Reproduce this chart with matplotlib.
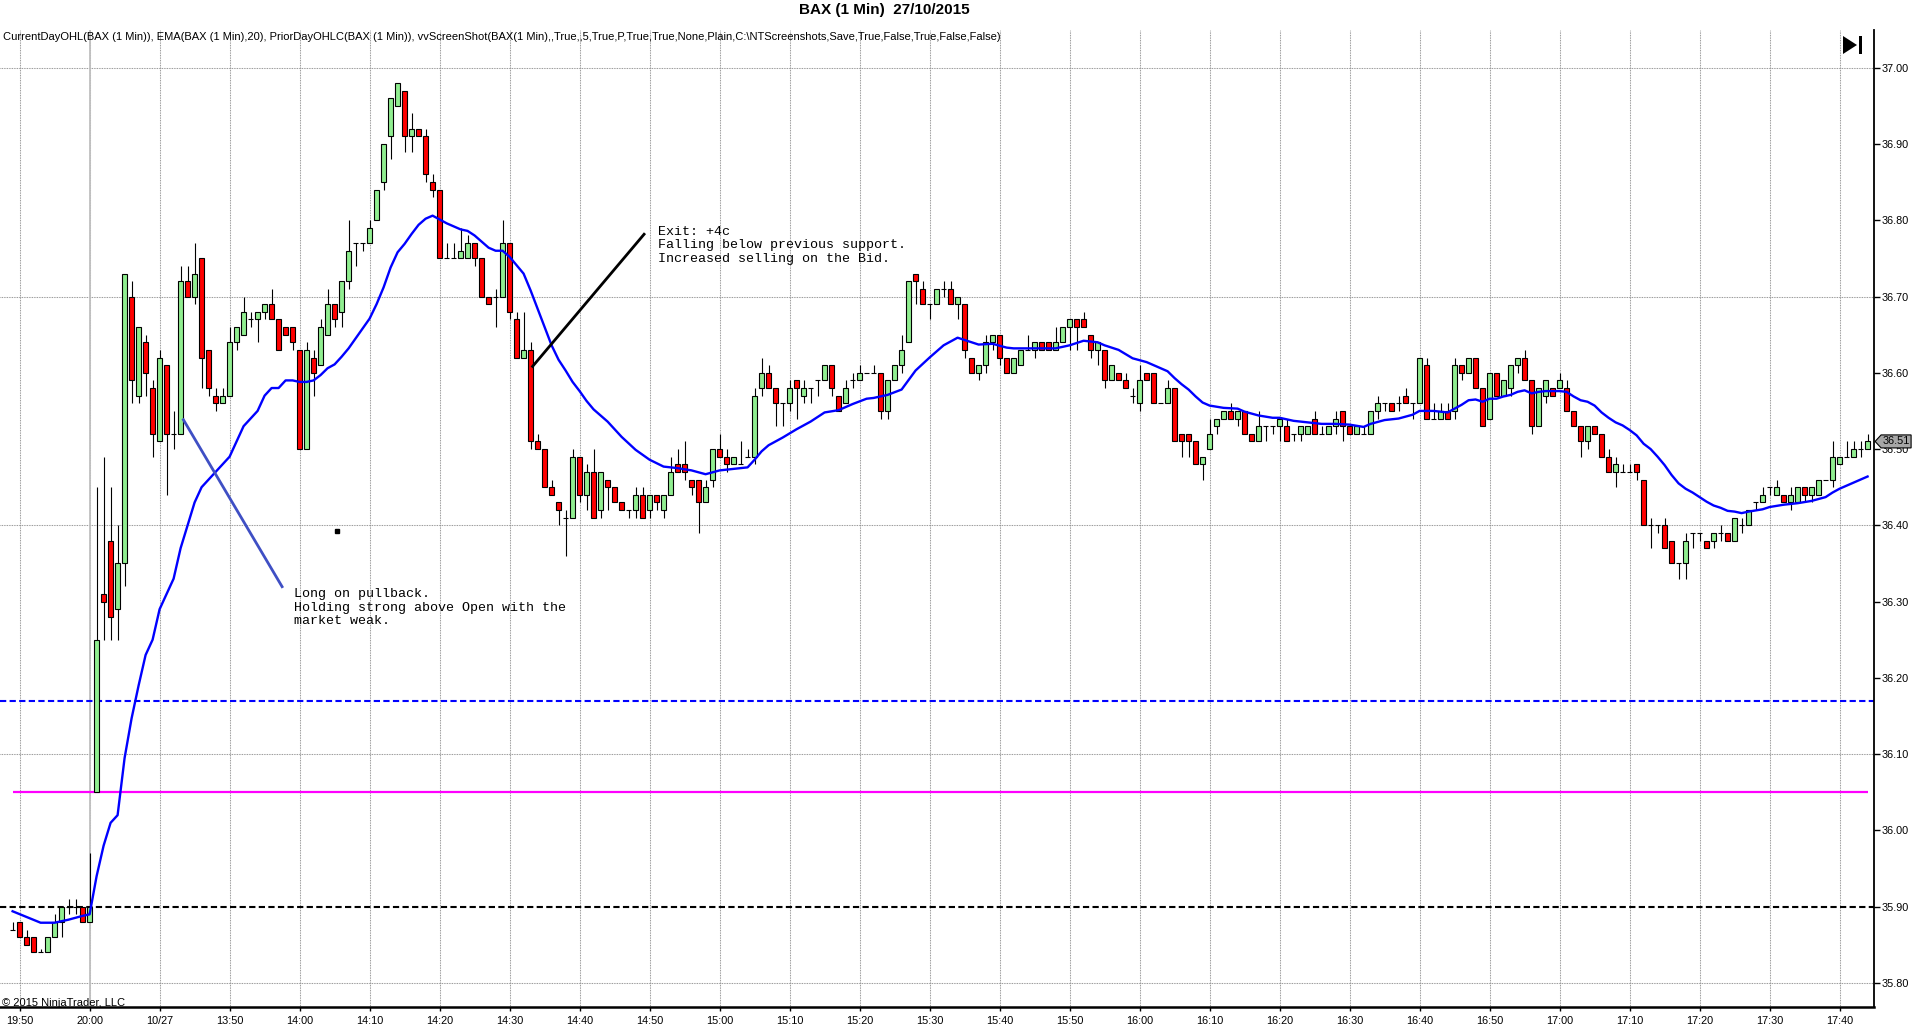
import matplotlib
matplotlib.use('Agg')
import matplotlib.pyplot as plt
import numpy as np
from matplotlib.patches import Polygon, Rectangle

plt.rcParams['font.family'] = ['Liberation Sans', 'DejaVu Sans']

# ---------------- data ----------------
tick_labels = ['19:50', '20:00', '10/27', '13:50', '14:00', '14:10', '14:20', '14:30', '14:40',
               '14:50', '15:00', '15:10', '15:20', '15:30', '15:40', '15:50', '16:00', '16:10',
               '16:20', '16:30', '16:40', '16:50', '17:00', '17:10', '17:20', '17:30', '17:40']

opens = [35.87, 35.88, 35.86, 35.86, 35.84, 35.84, 35.86, 35.88, 35.90, 35.90, 35.90, 35.88,
         36.05, 36.31, 36.38, 36.29, 36.35, 36.70, 36.57, 36.64, 36.58, 36.51,
         36.61, 36.52, 36.52, 36.72, 36.70, 36.75, 36.63, 36.57, 36.56, 36.57,
         36.64, 36.65, 36.67, 36.67, 36.68, 36.69, 36.67, 36.66, 36.66, 36.63,
         36.50, 36.62, 36.61, 36.65, 36.69, 36.68, 36.72, 36.77, 36.77, 36.77,
         36.80, 36.85, 36.91, 36.95, 36.97, 36.91, 36.92, 36.91, 36.85, 36.84,
         36.75, 36.75, 36.75, 36.75, 36.77, 36.75, 36.70, 36.70, 36.70, 36.77,
         36.67, 36.62, 36.63, 36.51, 36.50, 36.45, 36.43, 36.41, 36.41, 36.49,
         36.44, 36.47, 36.42, 36.46, 36.45, 36.43, 36.42, 36.42, 36.44, 36.42,
         36.44, 36.42, 36.44, 36.48, 36.48, 36.46, 36.46, 36.43, 36.46, 36.50,
         36.49, 36.48, 36.48, 36.49, 36.49, 36.58, 36.60, 36.58, 36.56, 36.56,
         36.59, 36.57, 36.58, 36.59, 36.59, 36.61, 36.57, 36.56, 36.59, 36.59,
         36.60, 36.60, 36.60, 36.55, 36.59, 36.61, 36.64, 36.73, 36.71, 36.69,
         36.69, 36.71, 36.71, 36.69, 36.69, 36.62, 36.60, 36.61, 36.64, 36.65,
         36.62, 36.60, 36.61, 36.63, 36.63, 36.64, 36.64, 36.63, 36.64, 36.66,
         36.67, 36.67, 36.65, 36.63, 36.63, 36.59, 36.60, 36.59, 36.57, 36.56,
         36.60, 36.60, 36.56, 36.56, 36.58, 36.52, 36.52, 36.51, 36.48, 36.50,
         36.53, 36.54, 36.55, 36.54, 36.55, 36.52, 36.51, 36.53, 36.53, 36.53,
         36.53, 36.52, 36.52, 36.52, 36.54, 36.52, 36.52, 36.53, 36.55, 36.53,
         36.52, 36.52, 36.52, 36.55, 36.56, 36.56, 36.56, 36.57, 36.56, 36.56,
         36.61, 36.54, 36.54, 36.55, 36.55, 36.61, 36.60, 36.62, 36.58, 36.54,
         36.60, 36.57, 36.58, 36.61, 36.62, 36.59, 36.53, 36.57, 36.58, 36.58,
         36.58, 36.55, 36.53, 36.51, 36.53, 36.52, 36.49, 36.47, 36.47, 36.47,
         36.48, 36.46, 36.40, 36.40, 36.40, 36.38, 36.35, 36.35, 36.39, 36.39,
         36.38, 36.38, 36.39, 36.39, 36.38, 36.40, 36.40, 36.43, 36.43, 36.45,
         36.44, 36.44, 36.43, 36.43, 36.45, 36.44, 36.44, 36.46, 36.46, 36.48,
         36.49, 36.49, 36.50, 36.50]

highs = [35.88, 35.88, 35.87, 35.86, 35.845, 35.86, 35.89, 35.90, 35.91, 35.91, 35.90, 35.97,
         36.45, 36.49, 36.45, 36.40, 36.73, 36.72, 36.66, 36.65, 36.59, 36.63,
         36.61, 36.55, 36.74, 36.74, 36.77, 36.75, 36.63, 36.58, 36.58, 36.66,
         36.66, 36.70, 36.68, 36.68, 36.69, 36.71, 36.67, 36.66, 36.66, 36.63,
         36.64, 36.63, 36.67, 36.71, 36.69, 36.72, 36.80, 36.77, 36.77, 36.80,
         36.84, 36.90, 36.96, 36.98, 36.97, 36.94, 36.92, 36.92, 36.86, 36.84,
         36.77, 36.77, 36.79, 36.78, 36.77, 36.75, 36.70, 36.71, 36.80, 36.77,
         36.68, 36.68, 36.64, 36.52, 36.50, 36.46, 36.43, 36.42, 36.50, 36.49,
         36.48, 36.50, 36.47, 36.46, 36.45, 36.43, 36.42, 36.45, 36.45, 36.44,
         36.44, 36.44, 36.49, 36.50, 36.51, 36.46, 36.46, 36.46, 36.50, 36.52,
         36.50, 36.49, 36.51, 36.50, 36.58, 36.62, 36.61, 36.58, 36.56, 36.59,
         36.59, 36.59, 36.58, 36.59, 36.61, 36.61, 36.57, 36.59, 36.60, 36.61,
         36.60, 36.61, 36.60, 36.59, 36.61, 36.65, 36.72, 36.73, 36.72, 36.69,
         36.71, 36.72, 36.72, 36.70, 36.69, 36.62, 36.61, 36.65, 36.65, 36.65,
         36.62, 36.62, 36.63, 36.65, 36.64, 36.64, 36.64, 36.66, 36.66, 36.67,
         36.67, 36.68, 36.65, 36.64, 36.63, 36.61, 36.60, 36.60, 36.58, 36.61,
         36.60, 36.60, 36.56, 36.59, 36.58, 36.52, 36.52, 36.51, 36.49, 36.54,
         36.54, 36.55, 36.56, 36.55, 36.55, 36.52, 36.55, 36.53, 36.53, 36.54,
         36.54, 36.52, 36.53, 36.53, 36.55, 36.53, 36.53, 36.55, 36.55, 36.53,
         36.53, 36.53, 36.55, 36.57, 36.56, 36.56, 36.57, 36.58, 36.56, 36.62,
         36.62, 36.56, 36.56, 36.56, 36.62, 36.61, 36.62, 36.62, 36.58, 36.60,
         36.60, 36.59, 36.61, 36.62, 36.63, 36.59, 36.58, 36.59, 36.58, 36.60,
         36.59, 36.55, 36.53, 36.53, 36.53, 36.52, 36.50, 36.49, 36.48, 36.48,
         36.48, 36.46, 36.41, 36.40, 36.41, 36.38, 36.35, 36.39, 36.39, 36.39,
         36.38, 36.39, 36.40, 36.39, 36.41, 36.41, 36.42, 36.43, 36.45, 36.45,
         36.46, 36.44, 36.45, 36.45, 36.45, 36.45, 36.46, 36.46, 36.51, 36.49,
         36.51, 36.51, 36.51, 36.52]

lows = [35.87, 35.86, 35.85, 35.84, 35.84, 35.84, 35.86, 35.86, 35.89, 35.89, 35.88, 35.88,
        36.05, 36.25, 36.25, 36.25, 36.32, 36.56, 36.56, 36.57, 36.49, 36.51,
        36.44, 36.50, 36.52, 36.70, 36.69, 36.58, 36.57, 36.55, 36.56, 36.57,
        36.63, 36.65, 36.66, 36.64, 36.67, 36.67, 36.63, 36.65, 36.63, 36.50,
        36.50, 36.57, 36.61, 36.65, 36.66, 36.66, 36.71, 36.74, 36.76, 36.77,
        36.80, 36.84, 36.88, 36.95, 36.89, 36.89, 36.91, 36.85, 36.83, 36.75,
        36.75, 36.75, 36.75, 36.75, 36.74, 36.70, 36.69, 36.66, 36.70, 36.67,
        36.62, 36.62, 36.50, 36.50, 36.45, 36.44, 36.40, 36.36, 36.41, 36.43,
        36.42, 36.41, 36.41, 36.42, 36.43, 36.42, 36.41, 36.41, 36.41, 36.41,
        36.42, 36.41, 36.44, 36.47, 36.46, 36.44, 36.39, 36.43, 36.45, 36.49,
        36.47, 36.48, 36.48, 36.49, 36.48, 36.57, 36.58, 36.53, 36.53, 36.55,
        36.54, 36.56, 36.56, 36.57, 36.59, 36.57, 36.55, 36.56, 36.58, 36.59,
        36.60, 36.60, 36.54, 36.54, 36.59, 36.60, 36.64, 36.69, 36.69, 36.67,
        36.69, 36.70, 36.69, 36.67, 36.62, 36.60, 36.59, 36.60, 36.63, 36.61,
        36.60, 36.60, 36.61, 36.63, 36.62, 36.63, 36.63, 36.63, 36.64, 36.63,
        36.63, 36.66, 36.62, 36.61, 36.58, 36.59, 36.59, 36.58, 36.56, 36.55,
        36.59, 36.56, 36.56, 36.56, 36.51, 36.49, 36.49, 36.48, 36.46, 36.50,
        36.52, 36.54, 36.54, 36.53, 36.52, 36.51, 36.51, 36.51, 36.52, 36.51,
        36.51, 36.51, 36.51, 36.52, 36.52, 36.52, 36.52, 36.52, 36.51, 36.52,
        36.52, 36.52, 36.52, 36.54, 36.55, 36.55, 36.55, 36.56, 36.54, 36.56,
        36.54, 36.54, 36.54, 36.54, 36.54, 36.59, 36.60, 36.58, 36.53, 36.54,
        36.57, 36.57, 36.57, 36.60, 36.59, 36.52, 36.53, 36.56, 36.57, 36.58,
        36.55, 36.53, 36.49, 36.50, 36.52, 36.49, 36.47, 36.45, 36.47, 36.47,
        36.46, 36.40, 36.37, 36.39, 36.37, 36.35, 36.33, 36.33, 36.37, 36.38,
        36.37, 36.37, 36.38, 36.38, 36.38, 36.39, 36.40, 36.42, 36.43, 36.44,
        36.44, 36.43, 36.42, 36.43, 36.43, 36.43, 36.44, 36.46, 36.45, 36.48,
        36.49, 36.49, 36.49, 36.50]

closes = [35.87, 35.86, 35.85, 35.84, 35.84, 35.86, 35.88, 35.90, 35.90, 35.90, 35.88, 35.90,
          36.25, 36.30, 36.28, 36.35, 36.73, 36.59, 36.66, 36.60, 36.52, 36.62,
          36.52, 36.52, 36.72, 36.70, 36.73, 36.62, 36.58, 36.56, 36.57, 36.64,
          36.66, 36.68, 36.67, 36.68, 36.69, 36.67, 36.63, 36.65, 36.64, 36.50,
          36.63, 36.60, 36.66, 36.69, 36.67, 36.72, 36.76, 36.77, 36.77, 36.79,
          36.84, 36.90, 36.96, 36.98, 36.91, 36.92, 36.91, 36.86, 36.84, 36.75,
          36.75, 36.75, 36.76, 36.77, 36.75, 36.70, 36.69, 36.70, 36.77, 36.68,
          36.62, 36.63, 36.51, 36.50, 36.45, 36.44, 36.42, 36.41, 36.49, 36.44,
          36.47, 36.41, 36.47, 36.45, 36.43, 36.42, 36.42, 36.44, 36.41, 36.44,
          36.43, 36.44, 36.47, 36.47, 36.47, 36.45, 36.43, 36.45, 36.50, 36.49,
          36.48, 36.49, 36.48, 36.49, 36.57, 36.60, 36.58, 36.56, 36.56, 36.58,
          36.58, 36.58, 36.58, 36.59, 36.61, 36.58, 36.55, 36.58, 36.59, 36.60,
          36.60, 36.60, 36.55, 36.59, 36.61, 36.63, 36.72, 36.72, 36.69, 36.69,
          36.71, 36.71, 36.69, 36.70, 36.63, 36.60, 36.61, 36.64, 36.65, 36.62,
          36.60, 36.62, 36.63, 36.63, 36.64, 36.63, 36.63, 36.64, 36.66, 36.67,
          36.66, 36.66, 36.63, 36.64, 36.59, 36.61, 36.59, 36.58, 36.57, 36.59,
          36.59, 36.56, 36.56, 36.58, 36.51, 36.51, 36.51, 36.48, 36.49, 36.52,
          36.54, 36.55, 36.54, 36.55, 36.52, 36.51, 36.53, 36.53, 36.53, 36.54,
          36.51, 36.52, 36.53, 36.53, 36.52, 36.52, 36.53, 36.54, 36.53, 36.52,
          36.53, 36.52, 36.55, 36.56, 36.56, 36.55, 36.56, 36.56, 36.56, 36.62,
          36.54, 36.54, 36.55, 36.54, 36.61, 36.60, 36.62, 36.58, 36.53, 36.60,
          36.57, 36.59, 36.61, 36.62, 36.59, 36.53, 36.58, 36.59, 36.57, 36.59,
          36.55, 36.53, 36.51, 36.53, 36.52, 36.49, 36.47, 36.48, 36.47, 36.47,
          36.47, 36.40, 36.40, 36.40, 36.37, 36.35, 36.35, 36.38, 36.39, 36.39,
          36.37, 36.39, 36.39, 36.38, 36.41, 36.40, 36.42, 36.43, 36.44, 36.45,
          36.45, 36.43, 36.44, 36.45, 36.44, 36.45, 36.46, 36.46, 36.49, 36.49,
          36.49, 36.50, 36.50, 36.51]

ema_bar = [0, 4, 6, 8, 10, 11, 12, 13, 14, 15, 16, 17, 18, 19, 20, 21, 22, 23, 24, 25, 26, 27, 28, 29,
           30, 31, 32, 33, 34, 35, 36, 37, 38, 39, 40, 41, 42, 43, 44, 45, 46, 47, 48, 49, 50, 51,
           52, 53, 54, 55, 56, 57, 58, 59, 60, 61, 62, 63, 64, 65, 66, 67, 68, 69, 70, 71, 72, 73,
           74, 75, 76, 77, 78, 79, 80, 81, 82, 83, 85, 87, 89, 91, 93, 95, 97, 99, 101, 103, 105,
           106, 107, 108, 110, 112, 114, 116, 118, 120, 122, 123, 125, 127, 129, 131, 133, 135,
           137, 138, 140, 142, 143, 146, 149, 151, 153, 155, 156, 158, 160, 162, 164, 165, 166,
           167, 168, 169, 170, 171, 173, 175, 176, 178, 180, 181, 183, 185, 187, 189, 191, 193,
           194, 196, 198, 200, 201, 203, 205, 206, 207, 208, 209, 210, 211, 212, 213, 214, 215,
           216, 217, 218, 219, 220, 221, 222, 223, 224, 225, 226, 227, 228, 229, 230, 231, 232,
           233, 234, 235, 236, 237, 238, 239, 240, 241, 242, 243, 244, 245, 246, 247, 248, 250,
           251, 253, 255, 257, 259, 260, 261, 263, 265]
ema_val = [35.894, 35.879, 35.879, 35.883, 35.888, 35.890, 35.940, 35.980, 36.010, 36.020, 36.095,
           36.147, 36.190, 36.230, 36.250, 36.290, 36.310, 36.330, 36.370, 36.400, 36.430, 36.450,
           36.460, 36.470, 36.480, 36.490, 36.510, 36.530, 36.540, 36.550, 36.570, 36.580, 36.580,
           36.590, 36.590, 36.588, 36.588, 36.590, 36.597, 36.606, 36.611, 36.621, 36.632, 36.645,
           36.658, 36.671, 36.690, 36.712, 36.738, 36.758, 36.769, 36.782, 36.794, 36.802, 36.806,
           36.801, 36.796, 36.792, 36.788, 36.786, 36.780, 36.772, 36.764, 36.760, 36.760, 36.752,
           36.741, 36.730, 36.708, 36.684, 36.660, 36.636, 36.617, 36.603, 36.588, 36.576, 36.563,
           36.552, 36.536, 36.516, 36.499, 36.486, 36.477, 36.475, 36.472, 36.467, 36.472, 36.474,
           36.476, 36.486, 36.497, 36.505, 36.515, 36.526, 36.536, 36.548, 36.551, 36.559, 36.566,
           36.567, 36.571, 36.578, 36.603, 36.620, 36.636, 36.646, 36.640, 36.637, 36.638, 36.633,
           36.632, 36.632, 36.632, 36.636, 36.642, 36.640, 36.636, 36.630, 36.619, 36.614, 36.606,
           36.602, 36.593, 36.585, 36.578, 36.569, 36.561, 36.557, 36.554, 36.553, 36.549, 36.544,
           36.541, 36.541, 36.537, 36.535, 36.533, 36.533, 36.532, 36.529, 36.533, 36.538, 36.540,
           36.545, 36.550, 36.550, 36.548, 36.553, 36.558, 36.564, 36.565, 36.562, 36.566, 36.566,
           36.569, 36.571, 36.575, 36.577, 36.573, 36.575, 36.576, 36.576, 36.576, 36.575, 36.569,
           36.564, 36.562, 36.557, 36.548, 36.541, 36.535, 36.531, 36.525, 36.518, 36.507, 36.500,
           36.490, 36.479, 36.466, 36.455, 36.448, 36.443, 36.437, 36.431, 36.426, 36.423, 36.419,
           36.418, 36.416, 36.418, 36.421, 36.424, 36.427, 36.429, 36.432, 36.437, 36.443, 36.448,
           36.456, 36.464]

prior_close = 35.90
prior_high = 36.17
day_open = 36.05

long_note = ['Long on pullback.', 'Holding strong above Open with the', 'market weak.']
long_note_pos = (40.14, 36.3094)
long_line_x = [24.3, 38.6]
long_line_y = [36.540, 36.318]

exit_note = ['Exit: +4c', 'Falling below previous support.', 'Increased selling on the Bid.']
exit_note_pos = (92.2, 36.7847)
exit_line_x = [74.16, 90.34]
exit_line_y = [36.607, 36.783]

dot_mark = (46.3, 36.393)

title = 'BAX (1 Min)  27/10/2015'
indicators = ('CurrentDayOHL(BAX (1 Min)), EMA(BAX (1 Min),20), PriorDayOHLC(BAX (1 Min)), '
              'vvScreenShot(BAX(1 Min),,True,,5,True,P,True,True,None,Plain,C:\\NTScreenshots,'
              'Save,True,False,True,False,False)')
copyright_txt = '\u00a9 2015 NinjaTrader, LLC'

# ---------------- figure ----------------
W, H = 1920, 1034
fig = plt.figure(figsize=(W / 100, H / 100), dpi=100)
fig.patch.set_facecolor('white')
ax = fig.add_axes([0, 27 / H, 1873.6 / W, 977 / H])
ax.set_xlim(-1.8, 265.86)
ax.set_ylim(35.7685, 37.0494)

n = len(opens)
idx = np.arange(n)
o = np.array(opens); c = np.array(closes); hi = np.array(highs); lo = np.array(lows)

# grid
tick_pos = np.arange(1, 1 + 10 * len(tick_labels), 10)
grid_ls = (0, (0.8, 0.8))
for xp in tick_pos:
    ax.axvline(xp, color='#8c8c8c', lw=0.75, ls=grid_ls, zorder=1)
for yv in np.arange(35.8, 37.01, 0.3):
    ax.axhline(yv, color='#8c8c8c', lw=0.75, ls=grid_ls, zorder=1)
# session break
ax.axvline(11, color='#c0c0c0', lw=1.3, zorder=1.5)

# reference lines
ax.axhline(prior_high, color='#0000ff', lw=1.5, ls=(0, (3, 1.6)), zorder=2)
ax.axhline(prior_close, color='black', lw=1.5, ls=(0, (3, 1.6)), zorder=2)
ax.hlines(day_open, idx[0], idx[-1], color='#ff00ff', lw=1.6, zorder=2)

# candles
ax.vlines(idx, lo, hi, color='black', lw=0.8, zorder=3)
colors = np.where(c > o, '#90ee90', np.where(c < o, '#ff0000', 'black'))
ax.bar(idx, np.abs(c - o), bottom=np.minimum(o, c), width=0.7, color=colors,
       edgecolor='black', linewidth=0.8, zorder=4)

# EMA
ax.plot(ema_bar, ema_val, color='#0000ff', lw=1.7, zorder=5, solid_joinstyle='round')

# annotations
ax.plot(long_line_x, long_line_y, color='#3f4fc4', lw=2.0, zorder=6, solid_capstyle='butt')
ax.plot(exit_line_x, exit_line_y, color='black', lw=2.0, zorder=6, solid_capstyle='butt')
ax.plot([dot_mark[0]], [dot_mark[1]], marker='s', ms=2.4, color='black', zorder=6)
for k, line in enumerate(long_note):
    ax.annotate(line, xy=long_note_pos, xytext=(0, -9.65 * k), textcoords='offset points',
                ha='left', va='center', family=['Liberation Mono', 'DejaVu Sans Mono'],
                fontsize=9.6, color='black', zorder=7)
for k, line in enumerate(exit_note):
    ax.annotate(line, xy=exit_note_pos, xytext=(0, -9.65 * k), textcoords='offset points',
                ha='left', va='center', family=['Liberation Mono', 'DejaVu Sans Mono'],
                fontsize=9.6, color='black', zorder=7)

# axes styling
for s in ['left', 'top']:
    ax.spines[s].set_visible(False)
ax.spines['right'].set_linewidth(1.3)
ax.spines['bottom'].set_linewidth(1.8)
ax.yaxis.tick_right()
yt = np.round(np.arange(35.8, 37.01, 0.1), 2)
ax.set_yticks(yt)
ax.set_yticklabels(['%.2f' % v for v in yt])
ax.set_xticks(tick_pos)
ax.set_xticklabels(tick_labels)
ax.tick_params(axis='y', direction='out', length=4.5, width=1, pad=1, labelsize=7.8,
               right=True, left=False)
ax.tick_params(axis='x', direction='out', length=3, width=1, pad=3.5, labelsize=7.8)

# last price marker
fig.canvas.draw()
ypix = ax.transData.transform((0, closes[-1]))[1]
xr = ax.get_position().x1 * W
pts = [(xr + 1.5, ypix), (xr + 7.5, ypix + 6.5), (xr + 37.5, ypix + 6.5),
       (xr + 37.5, ypix - 6.5), (xr + 7.5, ypix - 6.5)]
pts = [(px / W, py / H) for px, py in pts]
fig.add_artist(Polygon(pts, closed=True, facecolor='#a6a6a6', edgecolor='black', lw=0.8,
                       transform=fig.transFigure, zorder=10))
fig.text((xr + 22.5) / W, ypix / H, '%.2f' % closes[-1], ha='center', va='center',
         fontsize=7.8, color='black', zorder=11)

# go-to-end icon
tri = [(1843 / W, 1 - 36 / H), (1843 / W, 1 - 54 / H), (1857 / W, 1 - 45 / H)]
fig.add_artist(Polygon(tri, closed=True, facecolor='black', edgecolor='none',
                       transform=fig.transFigure))
fig.add_artist(Rectangle((1858.5 / W, 1 - 54 / H), 3.5 / W, 18 / H, facecolor='black',
                         edgecolor='none', transform=fig.transFigure))

# texts
fig.text(884 / W, 1 - 10 / H, title, ha='center', va='center', fontsize=11, fontweight='bold')
fig.text(3 / W, 1 - 37 / H, indicators, ha='left', va='center', fontsize=8.0)
fig.text(2.5 / W, 1 - 1003.5 / H, copyright_txt, ha='left', va='center', fontsize=8.0)

fig.savefig('out.png', dpi=100, facecolor='white')
